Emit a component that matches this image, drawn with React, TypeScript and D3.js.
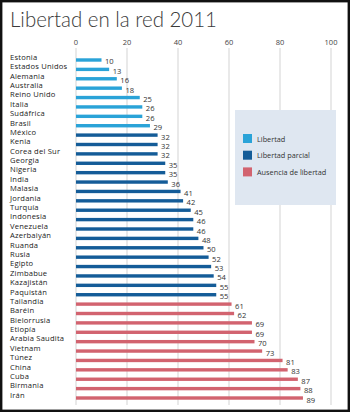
import { useEffect, useRef } from "react";
import * as d3 from "d3";

const countries = [
  "Estonia", "Estados Unidos", "Alemania", "Australia", "Reino Unido", "Italia", "Sudáfrica", "Brasil",
  "México", "Kenia", "Corea del Sur", "Georgia", "Nigeria", "India", "Malasia", "Jordania", "Turquía",
  "Indonesia", "Venezuela", "Azerbaiyán", "Ruanda", "Rusia", "Egipto", "Zimbabue", "Kazajistán", "Paquistán",
  "Tailandia", "Baréin", "Bielorrusia", "Etiopía", "Arabia Saudita", "Vietnam", "Túnez", "China", "Cuba",
  "Birmania", "Irán",
];
const scores = [
  10, 13, 16, 18, 25, 26, 26, 29,
  32, 32, 32, 35, 35, 36, 41, 42, 45, 46, 46, 48, 50, 52, 53, 54, 55, 55,
  61, 62, 69, 69, 70, 73, 81, 83, 87, 88, 89,
];
const status = [
  ...Array(8).fill("Libertad"),
  ...Array(18).fill("Libertad parcial"),
  ...Array(11).fill("Ausencia de libertad"),
];
const legendLabels = ["Libertad", "Libertad parcial", "Ausencia de libertad"];
const legendColors = ["#2aa3d8", "#145c98", "#d2636f"];
const xTicks = [0, 20, 40, 60, 80, 100];

const W = 350;
const H = 412;
const FONT = "'Open Sans', 'Noto Sans', sans-serif";

export default function App() {
  const svgRef = useRef<SVGSVGElement>(null);

  useEffect(() => {
    if (!svgRef.current) return;
    const svg = d3.select(svgRef.current);
    svg.selectAll("*").remove();

    const x = d3.scaleLinear().domain([0, 100]).range([76, 331]);
    const y = d3.scaleBand<string>().domain(countries).range([52.3, 399.7]).padding(0);
    const color = d3.scaleOrdinal<string, string>().domain(legendLabels).range(legendColors);
    const rowMid = (c: string) => (y(c) as number) + y.bandwidth() / 2;

    svg.append("rect").attr("width", W).attr("height", H).attr("fill", "#fff");

    // title
    svg.append("text")
      .attr("x", 10).attr("y", 27)
      .attr("font-family", "Lato, 'Open Sans', sans-serif").attr("font-weight", 300)
      .attr("font-size", 21).attr("fill", "#3a3a3a")
      .attr("textLength", 207).attr("lengthAdjust", "spacingAndGlyphs")
      .text("Libertad en la red 2011");

    // grid
    svg.append("g").selectAll("line").data(xTicks).join("line")
      .attr("x1", (d) => x(d)).attr("x2", (d) => x(d))
      .attr("y1", 48).attr("y2", 405)
      .attr("stroke", "#c8c8c8").attr("stroke-width", 0.8);

    svg.append("g").selectAll("text").data(xTicks).join("text")
      .attr("x", (d) => x(d)).attr("y", 45)
      .attr("text-anchor", "middle")
      .attr("font-family", FONT).attr("font-size", 7.5).attr("fill", "#444")
      .text((d) => d);

    // legend
    const lg = svg.append("g");
    lg.append("rect").attr("x", 235).attr("y", 110).attr("width", 101).attr("height", 95).attr("fill", "#dfe7f1");
    legendLabels.forEach((l, i) => {
      lg.append("rect").attr("x", 243).attr("y", 134 + i * 16.7).attr("width", 9).attr("height", 9).attr("fill", color(l));
      lg.append("text").attr("x", 257).attr("y", 141.5 + i * 16.7)
        .attr("font-family", FONT).attr("font-size", 7.3).attr("fill", "#333").text(l);
    });

    // labels
    svg.append("g").selectAll("text").data(countries).join("text")
      .attr("x", 10).attr("y", (d) => rowMid(d) + 2.8)
      .attr("font-family", FONT).attr("font-size", 7.6).attr("fill", "#1a1a1a")
      .attr("letter-spacing", 0.2)
      .text((d) => d);

    // bars
    svg.append("g").selectAll("rect").data(countries).join("rect")
      .attr("x", x(0)).attr("y", (d) => rowMid(d) + 1.3)
      .attr("width", (_, i) => x(scores[i]) - x(0)).attr("height", 3.4)
      .attr("fill", (_, i) => color(status[i]));

    svg.append("g").selectAll("text").data(countries).join("text")
      .attr("x", (_, i) => x(scores[i]) + 3.5).attr("y", (d) => rowMid(d) + 7.5)
      .attr("font-family", FONT).attr("font-size", 7.6).attr("fill", "#333")
      .text((_, i) => scores[i]);

    // frame
    svg.append("rect").attr("x", 1.2).attr("y", 1.2).attr("width", W - 2.4).attr("height", H - 2.4)
      .attr("fill", "none").attr("stroke", "#111").attr("stroke-width", 2.4);
  }, []);

  return (
    <svg ref={svgRef} width={W} height={H} style={{ position: "absolute", left: 0, top: 0 }} />
  );
}
